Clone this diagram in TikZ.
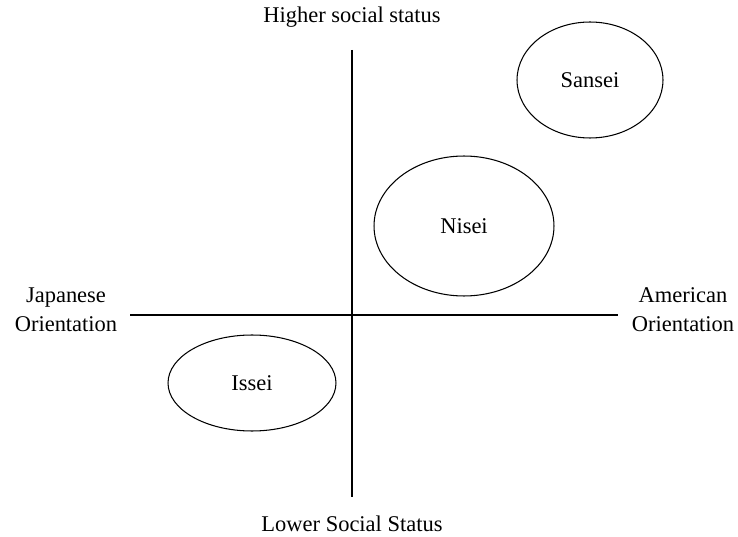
\documentclass[tikz,border=0pt]{standalone}
\usepackage{fontspec}
\setmainfont{Liberation Serif}
\usetikzlibrary{shapes.geometric}
\begin{document}
\begin{tikzpicture}[x=0.02cm,y=-0.02cm,line width=0.6pt]
\tikzstyle{every node}+=[font=\fontsize{12.8}{16.5}\selectfont]
\tikzstyle{group}=[draw,ellipse,inner sep=0pt]
\useasboundingbox (0,0) rectangle (738,537);
% axes
\coordinate (top) at (352,50);
\coordinate (bottom) at (352,497);
\coordinate (left) at (130,315);
\coordinate (right) at (618,315);
\draw (top) -- (bottom);
\draw (left) -- (right);
\node (high) at (352,17) {Higher social status};
\node (low) at (352,524) {Lower Social Status};
\node (jap) [align=center] at (66,310) {Japanese\\Orientation};
\node (amer) [align=center] at (683,310) {American\\Orientation};
% generations
\node (sansei) [group,minimum width=2.92cm,minimum height=2.32cm] at (590,80) {Sansei};
\node (nisei) [group,minimum width=3.6cm,minimum height=2.8cm] at (464,226) {Nisei};
\node (issei) [group,minimum width=3.36cm,minimum height=1.92cm] at (252,383) {Issei};
\end{tikzpicture}
\end{document}
